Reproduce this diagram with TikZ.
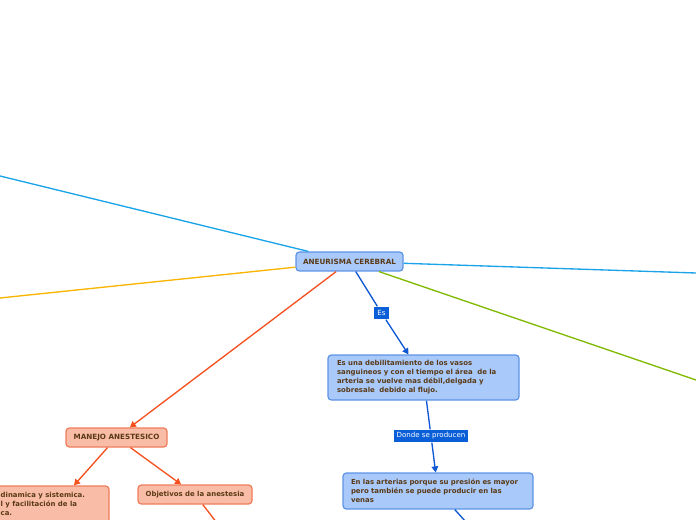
\documentclass[tikz,border=0pt]{standalone}
\usepackage{fontspec}
\setmainfont{DejaVu Sans}
\usetikzlibrary{arrows.meta}
\definecolor{fillblue}{HTML}{A8C9FA}
\definecolor{bordblue}{HTML}{5E93E6}
\definecolor{fillred}{HTML}{F9BCA6}
\definecolor{bordred}{HTML}{F07C5A}
\definecolor{txtbrown}{HTML}{5A3A16}
\definecolor{labblue}{HTML}{0A5FD8}
\definecolor{lcyan}{HTML}{1AA3E8}
\definecolor{lyellow}{HTML}{F9B400}
\definecolor{lgreen}{HTML}{7FBA00}
\definecolor{lred}{HTML}{F5511E}
\definecolor{lblue}{HTML}{1057D4}
\tikzset{
	topic/.style={draw=bordblue,fill=fillblue,rounded corners=2.5pt,line width=0.9pt,text=txtbrown,font=\bfseries\fontsize{5.2}{6.75}\selectfont,inner sep=0pt},
	redtopic/.style={topic,draw=bordred,fill=fillred},
	linklab/.style={fill=labblue,text=white,font=\fontsize{5.3}{6}\selectfont,inner sep=0pt},
	tip/.style={-{Triangle[width=5pt,length=4.5pt]}}
}
\begin{document}
\begin{tikzpicture}[x=0.75pt,y=-0.75pt,line width=1pt]
	\useasboundingbox(0,0)rectangle(696,520);
	\clip(0,0)rectangle(696,520);
	% free ends
	\coordinate(cL)at(0,176);
	\coordinate(yL)at(0,298);
	\coordinate(cR)at(696,273);
	\coordinate(gR)at(696,380);
	\coordinate(aEnd)at(466,522);
	\coordinate(oEnd)at(217,523);
	% nodes
	\node[topic,font=\bfseries\fontsize{5.4}{6.75}\selectfont,minimum width=80.25pt,minimum height=14.25pt](root)at(349.5,261.5){ANEURISMA CEREBRAL};
	\node[linklab,minimum width=11.25pt,minimum height=9pt](es)at(381.5,313){Es};
	\node[topic,minimum width=143.25pt,minimum height=33.75pt,text width=129.75pt,align=left](debil)at(423.5,377.5){Es una debilitamiento de los vasos\\sanguineos y con el tiempo el área\ \ de la\\arteria se vuelve mas débil,delgada y\\sobresale\ \ debido al flujo.};
	\node[linklab,minimum width=55.5pt,minimum height=9pt](donde)at(431,436){Donde se producen};
	\node[topic,minimum width=142.5pt,minimum height=27pt,text width=130.5pt,align=left](arterias)at(438,491){En las arterias porque su presión es mayor\\pero también se puede producir en las\\venas};
	\node[redtopic,font=\bfseries\fontsize{5.4}{6.75}\selectfont,minimum width=75.75pt,minimum height=14.25pt](manejo)at(116.5,437.5){MANEJO ANESTESICO};
	\node[redtopic,minimum width=85.5pt,minimum height=14.25pt](objetivos)at(195,494.5){Objetivos de la anestesia};
	\node[redtopic,minimum width=89.25pt,minimum height=40.5pt](estab)at(49.5,513){};
	\node[text=txtbrown,font=\bfseries\fontsize{5.2}{6.75}\selectfont,align=left,anchor=north west,inner sep=0pt](estabtxt)at(0,491.5){dinamica y sistemica.\\l y facilitación de la\\ca.};
	% connectors
	\draw[lcyan](cL)--(root);
	\draw[lyellow](yL)--(root);
	\draw[lcyan](cR)--(root);
	\draw[lgreen](gR)--(root);
	\draw[lred,tip](root)--(manejo);
	\draw[lblue](root)--(es);
	\draw[lblue,tip](es)--(debil);
	\draw[lblue](debil)--(donde);
	\draw[lblue,tip](donde)--(arterias);
	\draw[lblue](arterias)--(aEnd);
	\draw[lred,tip](manejo)--(estab);
	\draw[lred,tip](manejo)--(objetivos);
	\draw[lred](objetivos)--(oEnd);
\end{tikzpicture}
\end{document}
